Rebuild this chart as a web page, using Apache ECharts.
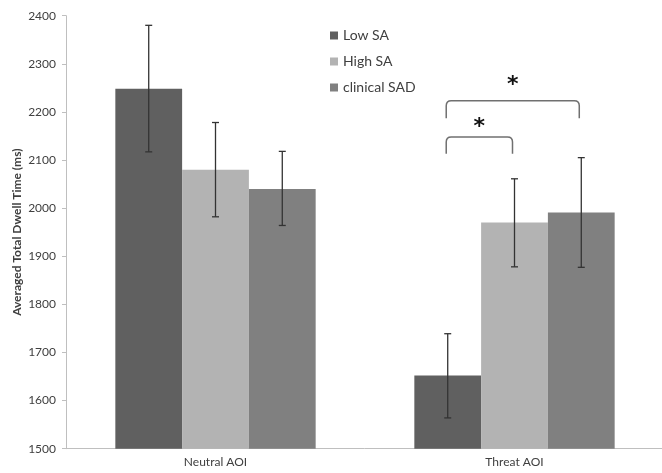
<!DOCTYPE html>
<html>
<head>
<meta charset="utf-8">
<script src="https://cdn.jsdelivr.net/npm/echarts@6/dist/echarts.min.js"></script>
<style>html,body{margin:0;padding:0;background:#fff}#c{width:662px;height:473px}</style>
</head>
<body>
<div id="c"></div>
<script>
var categories = ['Neutral AOI', 'Threat AOI'];
var seriesNames = ['Low SA', 'High SA', 'clinical SAD'];
var lowSA = [2248, 1652];
var highSA = [2080, 1970];
var clinicalSAD = [2040, 1991];
var lowSAErr = [[2117, 2380], [1564, 1739]];
var highSAErr = [[1982, 2178], [1878, 2061]];
var clinicalSADErr = [[1964, 2118], [1877, 2105]];
var yTicks = [1500, 1600, 1700, 1800, 1900, 2000, 2100, 2200, 2300, 2400];
// brackets: [category, fromSeries, toSeries, topValue, legBottomValue, starValue, label]
var brackets = [[1, 0, 2, 2223, 2187, 2256, '*'], [1, 0, 1, 2148, 2113, 2168, '*']];

var colors = ['#606060', '#b3b3b3', '#808080'];
var GAP = 0.33;
var values = [lowSA, highSA, clinicalSAD];
var errs = [lowSAErr, highSAErr, clinicalSADErr];

function barCenter(api, cat, sIdx, v) {
  var p = api.coord([cat, v]);
  var band = api.size([1, 0])[0];
  var bw = band * (1 - GAP) / 3;
  return [p[0] + (sIdx - 1) * bw, p[1]];
}

var series = [];
seriesNames.forEach(function (n, i) {
  series.push({
    name: n, type: 'bar', data: values[i], barGap: '0%', barCategoryGap: (GAP * 100) + '%',
    itemStyle: { color: colors[i] }, silent: true
  });
});
seriesNames.forEach(function (n, i) {
  series.push({
    type: 'custom', silent: true, z: 10,
    data: errs[i].map(function (e, c) { return [c, e[0], e[1]]; }),
    renderItem: function (params, api) {
      var c = api.value(0);
      var lo = barCenter(api, c, i, api.value(1));
      var hi = barCenter(api, c, i, api.value(2));
      var hw = 3.5;
      var st = { stroke: '#333', lineWidth: 1.3 };
      return { type: 'group', children: [
        { type: 'line', shape: { x1: lo[0], y1: lo[1], x2: hi[0], y2: hi[1] }, style: st },
        { type: 'line', shape: { x1: lo[0] - hw, y1: lo[1], x2: lo[0] + hw, y2: lo[1] }, style: st },
        { type: 'line', shape: { x1: hi[0] - hw, y1: hi[1], x2: hi[0] + hw, y2: hi[1] }, style: st }
      ]};
    }
  });
});
series.push({
  type: 'custom', silent: true, z: 10,
  data: brackets,
  renderItem: function (params, api) {
    var c = api.value(0), a = api.value(1), b = api.value(2);
    var top = barCenter(api, c, a, api.value(3));
    var left = barCenter(api, c, a, api.value(4));
    var right = barCenter(api, c, b, api.value(4));
    var star = barCenter(api, c, a, api.value(5));
    var xl = left[0] - 1.5, xr = right[0] - 2, yt = top[1], yb = left[1], r = 5;
    var path = 'M' + xl + ' ' + yb + ' L' + xl + ' ' + (yt + r) + ' Q' + xl + ' ' + yt + ' ' + (xl + r) + ' ' + yt +
      ' L' + (xr - r) + ' ' + yt + ' Q' + xr + ' ' + yt + ' ' + xr + ' ' + (yt + r) + ' L' + xr + ' ' + yb;
    return { type: 'group', children: [
      { type: 'path', shape: { pathData: path }, style: { stroke: '#707070', lineWidth: 1.5, fill: null } },
      { type: 'text', x: (xl + xr) / 2, y: star[1], style: { text: brackets[params.dataIndex][6], fill: '#111', font: 'bold 22px "DejaVu Sans"', align: 'center', verticalAlign: 'middle' } }
    ]};
  }
});

var chart = echarts.init(document.getElementById('c'));
chart.setOption({
  animation: false,
  grid: { left: 66, right: -2, top: 15.7, bottom: 24.3, containLabel: false, outerBoundsMode: 'none' },
  legend: {
    data: seriesNames, orient: 'vertical', left: 325, top: 23,
    icon: 'rect', itemWidth: 8, itemHeight: 8, itemGap: 11,
    textStyle: { fontFamily: 'Lato', fontSize: 14, color: '#404040', lineHeight: 15 }
  },
  xAxis: {
    type: 'category', data: categories,
    axisLine: { lineStyle: { color: '#bfbfbf', width: 1 } },
    axisTick: { show: false },
    axisLabel: { fontFamily: 'Lato', fontSize: 12, color: '#404040', margin: 7 }
  },
  yAxis: {
    type: 'value', min: yTicks[0], max: yTicks[yTicks.length - 1], interval: 100,
    name: 'Averaged Total Dwell Time (ms)', nameLocation: 'middle', nameGap: 43, nameMoveOverlap: false,
    nameTextStyle: { fontFamily: 'Lato', fontSize: 12, fontWeight: 'bold', color: '#404040' },
    axisLine: { show: true, lineStyle: { color: '#bfbfbf', width: 1 } },
    axisTick: { show: true, length: 4, lineStyle: { color: '#bfbfbf' } },
    splitLine: { show: false },
    axisLabel: { fontFamily: 'Lato', fontSize: 12, color: '#404040', margin: 10, formatter: function (v) { return String(v); } }
  },
  series: series
});
</script>
</body>
</html>
